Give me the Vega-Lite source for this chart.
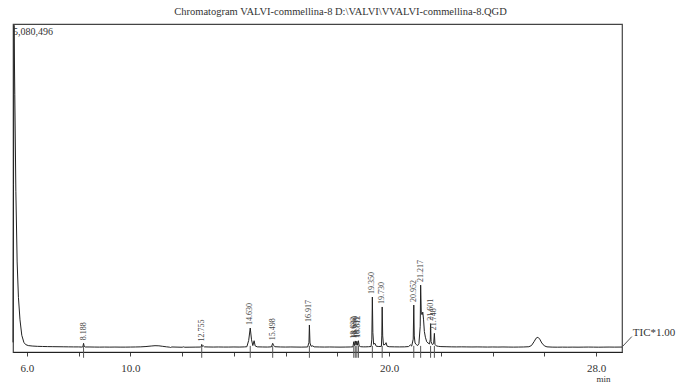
{
  "$schema": "https://vega.github.io/schema/vega-lite/v6.json",
  "autosize": {"type": "none"},
  "width": 609,
  "height": 328,
  "padding": {"left": 13, "top": 24, "right": 55, "bottom": 33},
  "background": "white",
  "title": {
    "text": "Chromatogram VALVI-commellina-8 D:\\VALVI\\VVALVI-commellina-8.QGD",
    "font": "Liberation Serif",
    "fontSize": 10.5,
    "fontWeight": "normal",
    "color": "#333",
    "anchor": "middle",
    "dx": 23,
    "offset": 6
  },
  "config": {
    "font": "Liberation Serif",
    "view": {"stroke": "#444", "strokeWidth": 1.2}
  },
  "datasets": {
    "trace": [
      {"t": 5.46, "v": 150000}, {"t": 5.48, "v": 2600000}, {"t": 5.5, "v": 5080496}, {"t": 5.53, "v": 4000000},
      {"t": 5.57, "v": 2500000}, {"t": 5.62, "v": 1400000}, {"t": 5.67, "v": 850000}, {"t": 5.73, "v": 500000},
      {"t": 5.8, "v": 260000}, {"t": 5.88, "v": 150000}, {"t": 5.95, "v": 115000}, {"t": 6.05, "v": 100000},
      {"t": 6.2, "v": 93000}, {"t": 6.4, "v": 88000}, {"t": 6.6, "v": 86000}, {"t": 6.8, "v": 84000},
      {"t": 7.0, "v": 83000}, {"t": 7.2, "v": 82000}, {"t": 7.4, "v": 81000}, {"t": 7.6, "v": 80000},
      {"t": 7.8, "v": 79000}, {"t": 8.0, "v": 79000}, {"t": 8.12, "v": 77000}, {"t": 8.16, "v": 80000},
      {"t": 8.188, "v": 135000}, {"t": 8.21, "v": 90000}, {"t": 8.25, "v": 78000}, {"t": 8.4, "v": 78000},
      {"t": 8.6, "v": 77000}, {"t": 8.8, "v": 76000}, {"t": 9.0, "v": 77000}, {"t": 9.2, "v": 76000},
      {"t": 9.4, "v": 77000}, {"t": 9.6, "v": 76000}, {"t": 9.8, "v": 76000}, {"t": 10.0, "v": 77000},
      {"t": 10.2, "v": 78000}, {"t": 10.4, "v": 80000}, {"t": 10.6, "v": 85000}, {"t": 10.8, "v": 93000},
      {"t": 10.95, "v": 98000}, {"t": 11.1, "v": 96000}, {"t": 11.25, "v": 88000}, {"t": 11.4, "v": 80000},
      {"t": 11.5, "v": 76000}, {"t": 11.55, "v": 70000}, {"t": 11.6, "v": 78000}, {"t": 11.8, "v": 76000},
      {"t": 12.0, "v": 74000}, {"t": 12.05, "v": 80000}, {"t": 12.1, "v": 74000}, {"t": 12.3, "v": 75000},
      {"t": 12.5, "v": 76000}, {"t": 12.7, "v": 77000}, {"t": 12.74, "v": 85000}, {"t": 12.755, "v": 118000},
      {"t": 12.78, "v": 88000}, {"t": 12.82, "v": 95000}, {"t": 12.86, "v": 80000}, {"t": 13.0, "v": 78000},
      {"t": 13.2, "v": 77000}, {"t": 13.4, "v": 78000}, {"t": 13.6, "v": 77000}, {"t": 13.8, "v": 77000},
      {"t": 14.0, "v": 78000}, {"t": 14.2, "v": 77000}, {"t": 14.4, "v": 79000}, {"t": 14.5, "v": 82000},
      {"t": 14.57, "v": 180000}, {"t": 14.63, "v": 373000}, {"t": 14.68, "v": 190000}, {"t": 14.73, "v": 100000},
      {"t": 14.78, "v": 175000}, {"t": 14.82, "v": 95000}, {"t": 14.9, "v": 80000}, {"t": 15.1, "v": 78000},
      {"t": 15.3, "v": 77000}, {"t": 15.45, "v": 80000}, {"t": 15.498, "v": 135000}, {"t": 15.53, "v": 105000},
      {"t": 15.58, "v": 82000}, {"t": 15.8, "v": 78000}, {"t": 16.0, "v": 77000}, {"t": 16.2, "v": 78000},
      {"t": 16.4, "v": 77000}, {"t": 16.6, "v": 76000}, {"t": 16.85, "v": 78000}, {"t": 16.9, "v": 150000},
      {"t": 16.917, "v": 420000}, {"t": 16.94, "v": 140000}, {"t": 16.98, "v": 90000}, {"t": 17.05, "v": 95000},
      {"t": 17.1, "v": 80000}, {"t": 17.3, "v": 78000}, {"t": 17.5, "v": 77000}, {"t": 17.7, "v": 78000},
      {"t": 17.9, "v": 77000}, {"t": 18.1, "v": 76000}, {"t": 18.3, "v": 77000}, {"t": 18.5, "v": 78000},
      {"t": 18.6, "v": 80000}, {"t": 18.632, "v": 160000}, {"t": 18.66, "v": 100000}, {"t": 18.69, "v": 172000},
      {"t": 18.72, "v": 105000}, {"t": 18.751, "v": 168000}, {"t": 18.78, "v": 105000}, {"t": 18.812, "v": 175000},
      {"t": 18.84, "v": 95000}, {"t": 18.9, "v": 82000}, {"t": 19.0, "v": 80000}, {"t": 19.1, "v": 80000},
      {"t": 19.2, "v": 82000}, {"t": 19.3, "v": 85000}, {"t": 19.33, "v": 200000}, {"t": 19.35, "v": 855000},
      {"t": 19.37, "v": 300000}, {"t": 19.4, "v": 120000}, {"t": 19.45, "v": 135000}, {"t": 19.5, "v": 90000},
      {"t": 19.6, "v": 85000}, {"t": 19.7, "v": 88000}, {"t": 19.715, "v": 250000}, {"t": 19.73, "v": 700000},
      {"t": 19.75, "v": 250000}, {"t": 19.78, "v": 110000}, {"t": 19.85, "v": 120000}, {"t": 19.88, "v": 145000},
      {"t": 19.92, "v": 90000}, {"t": 20.0, "v": 82000}, {"t": 20.2, "v": 80000}, {"t": 20.4, "v": 79000},
      {"t": 20.6, "v": 80000}, {"t": 20.75, "v": 85000}, {"t": 20.82, "v": 110000}, {"t": 20.87, "v": 92000},
      {"t": 20.93, "v": 200000}, {"t": 20.952, "v": 730000}, {"t": 20.97, "v": 250000}, {"t": 21.0, "v": 140000},
      {"t": 21.05, "v": 115000}, {"t": 21.1, "v": 100000}, {"t": 21.15, "v": 130000}, {"t": 21.2, "v": 400000},
      {"t": 21.217, "v": 1040000}, {"t": 21.24, "v": 620000}, {"t": 21.27, "v": 580000}, {"t": 21.3, "v": 620000},
      {"t": 21.33, "v": 500000}, {"t": 21.36, "v": 320000}, {"t": 21.4, "v": 230000}, {"t": 21.45, "v": 160000},
      {"t": 21.5, "v": 140000}, {"t": 21.56, "v": 125000}, {"t": 21.59, "v": 200000}, {"t": 21.601, "v": 440000},
      {"t": 21.62, "v": 160000}, {"t": 21.67, "v": 115000}, {"t": 21.72, "v": 130000}, {"t": 21.748, "v": 290000},
      {"t": 21.77, "v": 120000}, {"t": 21.82, "v": 95000}, {"t": 21.9, "v": 88000}, {"t": 22.0, "v": 84000},
      {"t": 22.2, "v": 82000}, {"t": 22.4, "v": 80000}, {"t": 22.6, "v": 79000}, {"t": 22.8, "v": 80000},
      {"t": 23.0, "v": 79000}, {"t": 23.2, "v": 78000}, {"t": 23.4, "v": 79000}, {"t": 23.6, "v": 78000},
      {"t": 23.8, "v": 77000}, {"t": 24.0, "v": 78000}, {"t": 24.2, "v": 77000}, {"t": 24.4, "v": 78000},
      {"t": 24.6, "v": 77000}, {"t": 24.8, "v": 76000}, {"t": 25.0, "v": 77000}, {"t": 25.2, "v": 78000},
      {"t": 25.4, "v": 82000}, {"t": 25.5, "v": 100000}, {"t": 25.6, "v": 160000}, {"t": 25.68, "v": 215000},
      {"t": 25.75, "v": 230000}, {"t": 25.82, "v": 200000}, {"t": 25.9, "v": 140000}, {"t": 26.0, "v": 95000},
      {"t": 26.1, "v": 80000}, {"t": 26.3, "v": 76000}, {"t": 26.5, "v": 75000}, {"t": 26.7, "v": 76000},
      {"t": 26.9, "v": 75000}, {"t": 27.1, "v": 76000}, {"t": 27.3, "v": 75000}, {"t": 27.5, "v": 76000},
      {"t": 27.7, "v": 77000}, {"t": 27.9, "v": 76000}, {"t": 28.1, "v": 75000}, {"t": 28.3, "v": 76000},
      {"t": 28.5, "v": 77000}, {"t": 28.7, "v": 76000}, {"t": 29.0, "v": 77000}
    ],
    "peaks": [
      {"t": 8.188, "top": 135000, "label": "8.188"},
      {"t": 12.755, "top": 118000, "label": "12.755"},
      {"t": 14.63, "top": 373000, "label": "14.630"},
      {"t": 15.498, "top": 135000, "label": "15.498"},
      {"t": 16.917, "top": 420000, "label": "16.917"},
      {"t": 18.632, "top": 160000, "label": "18.632"},
      {"t": 18.69, "top": 172000, "label": "18.690"},
      {"t": 18.751, "top": 168000, "label": "18.751"},
      {"t": 18.812, "top": 175000, "label": "18.812"},
      {"t": 19.35, "top": 855000, "label": "19.350"},
      {"t": 19.73, "top": 700000, "label": "19.730"},
      {"t": 20.952, "top": 730000, "label": "20.952"},
      {"t": 21.217, "top": 1040000, "label": "21.217"},
      {"t": 21.601, "top": 440000, "label": "21.601"},
      {"t": 21.748, "top": 290000, "label": "21.748"}
    ]
  },
  "layer": [
    {
      "data": {"name": "trace"},
      "mark": {"type": "line", "color": "#222", "strokeWidth": 1, "interpolate": "linear"},
      "encoding": {
        "x": {
          "field": "t", "type": "quantitative",
          "scale": {"domain": [5.46, 29.0], "nice": false, "zero": false},
          "axis": {
            "title": "min",
            "titleFont": "Liberation Serif",
            "titleFontSize": 9,
            "titleFontWeight": "normal",
            "titleColor": "#333",
            "titleAnchor": "end",
            "titleAlign": "right",
            "titleBaseline": "top",
            "titleX": 597,
            "titleY": 22,
            "values": [6,7,8,9,10,11,12,13,14,15,16,17,18,19,20,21,22,23,24,25,26,27,28],
            "labelExpr": "datum.value == 6 || datum.value == 10 || datum.value == 20 || datum.value == 28 ? format(datum.value, '.1f') : ''",
            "labelFont": "Liberation Serif",
            "labelFontSize": 11,
            "labelColor": "#333",
            "labelPadding": 6,
            "tickSize": 4,
            "tickColor": "#444",
            "domainColor": "#222",
            "grid": false
          }
        },
        "y": {
          "field": "v", "type": "quantitative",
          "scale": {"domain": [0, 5100000], "nice": false},
          "axis": null
        }
      }
    },
    {
      "data": {"name": "peaks"},
      "mark": {"type": "rule", "color": "#555", "strokeWidth": 1},
      "encoding": {
        "x": {"field": "t", "type": "quantitative"},
        "y": {"datum": 95000},
        "y2": {"datum": -90000}
      }
    },
    {
      "data": {"name": "peaks"},
      "mark": {"type": "text", "angle": 270, "align": "left", "baseline": "middle", "dx": 3, "font": "Liberation Serif", "fontSize": 8, "color": "#444"},
      "encoding": {
        "x": {"field": "t", "type": "quantitative"},
        "y": {"field": "top", "type": "quantitative"},
        "text": {"field": "label"}
      }
    },
    {
      "data": {"values": [{}]},
      "mark": {"type": "text", "align": "left", "baseline": "top", "dx": 0, "dy": 3, "font": "Liberation Serif", "fontSize": 10, "color": "#333"},
      "encoding": {
        "x": {"datum": 5.46},
        "y": {"datum": 5100000},
        "text": {"value": "5,080,496"}
      }
    },
    {
      "data": {"values": [{}]},
      "mark": {"type": "rule", "color": "#555", "strokeWidth": 1},
      "encoding": {
        "x": {"datum": 29.0},
        "x2": {"datum": 29.38},
        "y": {"datum": 77000},
        "y2": {"datum": 240000}
      }
    },
    {
      "data": {"values": [{}]},
      "mark": {"type": "text", "align": "left", "baseline": "middle", "font": "Liberation Serif", "fontSize": 11, "color": "#333"},
      "encoding": {
        "x": {"datum": 29.42},
        "y": {"datum": 300000},
        "text": {"value": "TIC*1.00"}
      }
    }
  ]
}
